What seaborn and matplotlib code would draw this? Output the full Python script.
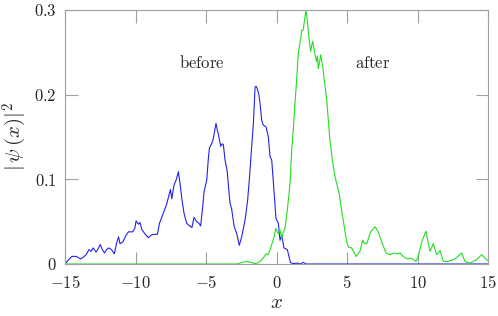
import matplotlib
matplotlib.use("Agg")
import matplotlib.pyplot as plt
import seaborn as sns
import pandas as pd

# ---- data ----
x_before = [-15.0, -14.9, -14.7, -14.5, -14.2, -13.9, -13.7, -13.5, -13.3, -13.15, -13.0, -12.8, -12.65,
            -12.5, -12.35, -12.2, -12.05, -11.9, -11.7, -11.5, -11.35, -11.2, -11.1, -10.9, -10.7, -10.5,
            -10.2, -10.05, -9.96, -9.8, -9.68, -9.56, -9.35, -9.09, -8.9, -8.74, -8.45, -8.3, -8.03, -7.8,
            -7.6, -7.52, -7.43, -7.27, -7.1, -6.96, -6.84, -6.72, -6.56, -6.37, -6.15, -6.0, -5.85, -5.66,
            -5.5, -5.38, -5.25, -5.14, -4.95, -4.84, -4.76, -4.6, -4.48, -4.29, -4.2, -4.13, -3.96, -3.85,
            -3.77, -3.65, -3.5, -3.3, -3.18, -3.0, -2.82, -2.64, -2.47, -2.23, -2.05, -1.93, -1.76, -1.64,
            -1.52, -1.45, -1.36, -1.25, -1.17, -1.05, -0.94, -0.74, -0.58, -0.46, -0.34, -0.18, -0.04,
            0.13, 0.25, 0.37, 0.53, 0.77, 0.91, 1.0, 1.2, 1.5, 1.7, 1.9, 2.1, 2.5, 5.0, 15.0]
y_before = [0.0, 0.002, 0.006, 0.009, 0.009, 0.006, 0.008, 0.011, 0.017, 0.015, 0.019, 0.014, 0.018,
            0.023, 0.017, 0.013, 0.017, 0.019, 0.017, 0.012, 0.024, 0.032, 0.024, 0.026, 0.033, 0.038,
            0.038, 0.042, 0.051, 0.047, 0.049, 0.041, 0.036, 0.031, 0.034, 0.035, 0.035, 0.048, 0.060, 0.070,
            0.083, 0.088, 0.077, 0.093, 0.100, 0.109, 0.095, 0.078, 0.060, 0.048, 0.045, 0.043, 0.055, 0.050,
            0.048, 0.045, 0.065, 0.085, 0.099, 0.123, 0.137, 0.142, 0.148, 0.166, 0.158, 0.154, 0.139, 0.142,
            0.141, 0.123, 0.110, 0.072, 0.065, 0.044, 0.036, 0.022, 0.032, 0.052, 0.075, 0.099, 0.139, 0.166,
            0.209, 0.210, 0.207, 0.200, 0.190, 0.170, 0.164, 0.162, 0.150, 0.127, 0.123, 0.087, 0.054,
            0.048, 0.028, 0.034, 0.019, 0.017, 0.007, 0.0015, 0.0005, 0.001, 0.0, 0.002, 0.0, 0.0, 0.0, 0.0]

x_after = [-15.0, -2.8, -2.64, -2.4, -2.1, -1.9, -1.76, -1.5, -1.3, -1.1, -0.94, -0.75, -0.58, -0.39,
           -0.18, -0.04, 0.05, 0.13, 0.25, 0.37, 0.48, 0.6, 0.77, 0.96, 1.08, 1.2, 1.31, 1.42, 1.55, 1.68,
           1.79, 1.88, 1.95, 2.09, 2.18, 2.33, 2.42, 2.5, 2.57, 2.65, 2.73, 2.85, 2.9, 2.97, 3.05, 3.13,
           3.28, 3.56, 3.79, 4.0, 4.15, 4.45, 4.6, 4.75, 4.86, 5.0, 5.09, 5.33, 5.64, 5.92, 6.11, 6.25,
           6.4, 6.68, 6.99, 7.22, 7.46, 7.77, 8.05, 8.33, 8.52, 8.76, 8.99, 9.28, 9.52, 9.89, 10.06, 10.3,
           10.6, 10.77, 10.89, 11.12, 11.36, 11.6, 11.83, 12.18, 12.66, 13.13, 13.37, 13.7, 14.2, 14.55,
           14.9, 15.0]
y_after = [0.0, 0.0, 0.001, 0.002, 0.003, 0.002, 0.0015, 0.0005, 0.0015, 0.004, 0.007, 0.012, 0.011, 0.020,
           0.032, 0.042, 0.038, 0.036, 0.040, 0.030, 0.038, 0.042, 0.064, 0.095, 0.135, 0.160, 0.190, 0.215,
           0.250, 0.262, 0.276, 0.276, 0.283, 0.300, 0.288, 0.263, 0.251, 0.258, 0.263, 0.255, 0.247, 0.239,
           0.246, 0.231, 0.238, 0.247, 0.233, 0.194, 0.146, 0.118, 0.103, 0.083, 0.065, 0.050, 0.038, 0.025,
           0.020, 0.019, 0.009, 0.015, 0.028, 0.024, 0.024, 0.038, 0.044, 0.038, 0.026, 0.013, 0.011, 0.013,
           0.012, 0.013, 0.009, 0.006, 0.007, 0.003, 0.009, 0.026, 0.039, 0.024, 0.015, 0.024, 0.011, 0.016,
           0.003, 0.003, 0.006, 0.013, 0.003, 0.001, 0.005, 0.011, 0.005, 0.004]

x_ticks = [-15, -10, -5, 0, 5, 10, 15]
y_ticks = [0, 0.1, 0.2, 0.3]
y_tick_labels = ["0", "0.1", "0.2", "0.3"]

sns.set_style("white")
plt.rcParams["mathtext.fontset"] = "cm"
plt.rcParams["font.family"] = ["DejaVu Serif"]

fig = plt.figure(figsize=(4.98, 3.16), dpi=100)
ax = fig.add_axes([65 / 498, 52 / 316, 423 / 498, 254 / 316])

df_b = pd.DataFrame({"x": x_before, "y": y_before})
df_a = pd.DataFrame({"x": x_after, "y": y_after})
sns.lineplot(data=df_b, x="x", y="y", ax=ax, color="#2222ee", lw=0.8, estimator=None, sort=False)
sns.lineplot(data=df_a, x="x", y="y", ax=ax, color="#22dd22", lw=0.8, estimator=None, sort=False)

ax.set_xlim(-15, 15)
ax.set_ylim(0, 0.3)
ax.set_xticks(x_ticks)
ax.set_xticklabels([f"${t}$" for t in x_ticks], fontsize=12)
ax.set_yticks(y_ticks)
ax.set_yticklabels([f"${t}$" for t in y_tick_labels], fontsize=12)
ax.tick_params(direction="in", length=9, width=0.8, color="#a0a0a0",
               top=True, right=True, bottom=True, left=True)
ax.tick_params(axis="x", pad=8)
ax.tick_params(axis="y", pad=6)
for s in ax.spines.values():
    s.set_color("#a0a0a0")
    s.set_linewidth(0.8)

ax.set_xlabel("$x$", fontsize=15, labelpad=1)
ax.set_ylabel(r"$|\,\psi\,(x)|^2$", fontsize=15, labelpad=4)

ax.text(-5.3, 0.237, r"$\mathrm{before}$", fontsize=12, ha="center", va="center")
ax.text(6.85, 0.237, r"$\mathrm{after}$", fontsize=12, ha="center", va="center")

fig.savefig("out.png", dpi=100)
